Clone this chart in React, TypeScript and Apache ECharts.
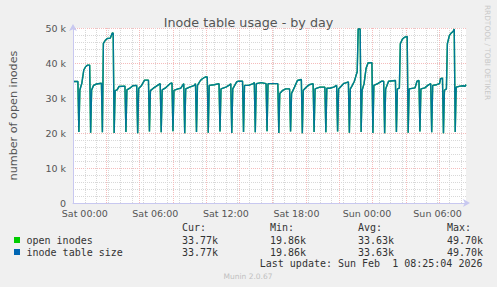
import React, { useEffect, useRef } from "react";
import * as echarts from "echarts";

// Time in minutes relative to Sat 00:00, values in thousands of inodes
const openInodes: [number, number][] = [
  [-55, 34.7], [-35, 34.7], [-30, 20.3],
  [-25, 32.3], [-15, 34.2], [-5, 38.0], [5, 39.0], [15, 39.4], [25, 39.4], [30, 20.1],
  [35, 32.3], [45, 33.6], [60, 34.0], [85, 34.2], [90, 20.2],
  [95, 45.6], [105, 46.5], [115, 47.0], [130, 47.1], [140, 48.5], [145, 48.6], [150, 20.0],
  [155, 32.1], [165, 32.3], [175, 33.3], [205, 33.4], [210, 20.3],
  [215, 32.3], [230, 32.8], [245, 33.5], [265, 33.6], [270, 19.9],
  [275, 32.7], [290, 33.6], [305, 35.1], [325, 35.1], [330, 20.4],
  [335, 32.1], [350, 32.8], [385, 34.1], [390, 20.2],
  [395, 32.3], [410, 32.8], [435, 34.1], [445, 34.3], [450, 20.5],
  [455, 32.2], [475, 32.6], [490, 32.8], [505, 34.1], [510, 19.9],
  [515, 32.6], [535, 33.1], [560, 33.6], [565, 34.1], [570, 20.3],
  [575, 33.6], [590, 35.0], [600, 35.5], [615, 36.0], [625, 36.0], [630, 20.1],
  [635, 33.6], [660, 33.8], [685, 34.1], [690, 20.4],
  [695, 32.6], [720, 33.1], [735, 33.6], [745, 34.1], [750, 20.0],
  [755, 32.6], [775, 34.6], [785, 34.8], [805, 34.8], [810, 20.3],
  [815, 33.6], [835, 33.6], [860, 34.1], [865, 34.4], [870, 20.2],
  [875, 34.1], [900, 34.4], [925, 34.1], [930, 20.5],
  [935, 34.1], [960, 34.1], [985, 34.1], [990, 20.0],
  [995, 31.3], [1010, 32.2], [1025, 32.6], [1045, 32.6], [1050, 20.4],
  [1055, 31.3], [1070, 33.1], [1085, 35.0], [1105, 35.3], [1110, 19.9],
  [1115, 32.2], [1130, 33.1], [1145, 33.8], [1165, 34.1], [1170, 20.3],
  [1175, 32.6], [1185, 32.8], [1200, 33.1], [1225, 33.1], [1230, 20.2],
  [1235, 32.8], [1250, 32.8], [1270, 33.1], [1285, 33.6], [1290, 20.4],
  [1295, 32.6], [1320, 34.1], [1335, 34.4], [1345, 34.6], [1350, 20.1],
  [1355, 32.6], [1365, 33.6], [1375, 34.7], [1385, 36.6], [1390, 37.5], [1395, 49.7], [1405, 49.7], [1410, 20.3],
  [1415, 32.2], [1425, 34.1], [1435, 38.4], [1445, 40.0], [1465, 40.1], [1470, 20.0],
  [1475, 33.6], [1495, 34.1], [1515, 34.8], [1525, 34.8], [1530, 19.9],
  [1535, 32.6], [1550, 34.8], [1585, 35.0], [1590, 20.3],
  [1595, 32.6], [1605, 32.8], [1610, 45.5], [1620, 46.8], [1630, 47.3], [1645, 47.6], [1650, 20.1],
  [1655, 32.6], [1685, 32.9], [1695, 34.8], [1705, 35.0], [1710, 20.4],
  [1715, 32.6], [1735, 32.9], [1750, 33.6], [1765, 34.1], [1770, 20.2],
  [1775, 33.6], [1795, 33.8], [1810, 34.1], [1815, 35.5], [1825, 35.7], [1830, 19.9],
  [1835, 32.2], [1845, 32.6], [1850, 45.5], [1860, 47.8], [1870, 48.6], [1880, 49.1], [1885, 49.7], [1890, 20.3],
  [1895, 33.1], [1915, 33.4], [1930, 33.5], [1940, 33.3], [1945, 33.8],
];
// Legend shows identical statistics for both series
const inodeTableSize: [number, number][] = openInodes.map((p) => [p[0], p[1]]);

const tickMinutes = [0, 360, 720, 1080, 1440, 1800];
const tickLabels = ["Sat 00:00", "Sat 06:00", "Sat 12:00", "Sat 18:00", "Sun 00:00", "Sun 06:00"];

const seriesNames = ["open inodes", "inode table size"];
const seriesColors = ["#00CC00", "#0066B3"];
const statHeaders = ["Cur:", "Min:", "Avg:", "Max:"];
const openStats = ["33.77k", "19.86k", "33.63k", "49.70k"];
const tableStats = ["33.77k", "19.86k", "33.63k", "49.70k"];
const lastUpdate = "Last update: Sun Feb  1 08:25:04 2026";

export default function App() {
  const ref = useRef<HTMLDivElement>(null);
  useEffect(() => {
    if (!ref.current) return;
    const chart = echarts.init(ref.current, undefined, { renderer: "svg" });
    const mono = "DejaVu Sans Mono";
    const sans = "DejaVu Sans";
    const colX = [182, 270, 358, 447];
    const graphic: any[] = [];
    statHeaders.forEach((h, i) =>
      graphic.push({ type: "text", x: colX[i], y: 227.5, style: { text: h, font: `10px "${mono}"`, fill: "#333", textVerticalAlign: "middle" } })
    );
    const rows = [
      { y: 240, name: seriesNames[0], color: seriesColors[0], stats: openStats },
      { y: 252, name: seriesNames[1], color: seriesColors[1], stats: tableStats },
    ];
    rows.forEach((r) => {
      graphic.push({ type: "rect", shape: { x: 14, y: r.y - 3, width: 6, height: 6 }, style: { fill: r.color } });
      graphic.push({ type: "text", x: 26.5, y: r.y, style: { text: r.name, font: `10px "${mono}"`, fill: "#333", textVerticalAlign: "middle" } });
      r.stats.forEach((s, i) =>
        graphic.push({ type: "text", x: colX[i], y: r.y, style: { text: s, font: `10px "${mono}"`, fill: "#333", textVerticalAlign: "middle" } })
      );
    });
    graphic.push({ type: "text", x: 482.5, y: 263.5, style: { text: lastUpdate, font: `10px "${mono}"`, fill: "#333", textAlign: "right", textVerticalAlign: "middle" } });
    graphic.push({ type: "text", x: 248, y: 276, style: { text: "Munin 2.0.67", font: `7.5px "${sans}"`, fill: "#c0c0c0", textAlign: "center", textVerticalAlign: "middle" } });
    graphic.push({
      type: "text", x: 487, y: 52.5, rotation: -Math.PI / 2,
      style: { text: "RRDTOOL / TOBI OETIKER", font: `7.4px "${sans}"`, fill: "#c8c8c8", textAlign: "center", textVerticalAlign: "middle" },
    });

    const gridGrey = { color: "#d8d8d8", type: [1, 1] as any, width: 1 };
    const gridRed = { color: "#f5bcbc", type: [1, 1] as any, width: 1 };
    const axisCol = "#c8c8f0";

    chart.setOption({
      animation: false,
      backgroundColor: "#F0F0F0",
      title: {
        text: "Inode table usage - by day",
        left: "center",
        top: 11,
        textStyle: { fontFamily: sans, fontSize: 12.7, fontWeight: "normal", color: "#555" },
      },
      grid: { left: 65, right: 31, top: 28, bottom: 84, show: true, backgroundColor: "#ffffff", borderWidth: 0 },
      xAxis: [
        {
          type: "value", min: -60, max: 1945, interval: 60,
          axisLine: { show: true, onZero: false, lineStyle: { color: axisCol }, symbol: ["none", "arrow"], symbolSize: [6, 7], symbolOffset: [0, 4] },
          axisTick: { show: false },
          splitLine: { show: true, showMinLine: false, showMaxLine: false, lineStyle: gridGrey },
          axisLabel: {
            fontFamily: sans, fontSize: 9.5, color: "#555", margin: 5,
            formatter: (v: number) => {
              const i = tickMinutes.indexOf(Math.round(v));
              return i >= 0 ? tickLabels[i] : "";
            },
          },
        },
        {
          type: "value", min: -180, max: 1945, interval: 180, position: "bottom", z: 1,
          axisLine: { show: false, onZero: false }, axisTick: { show: false }, axisLabel: { show: false },
          splitLine: { show: true, showMinLine: false, showMaxLine: false, lineStyle: gridRed },
        },
      ],
      yAxis: {
        type: "value", min: 0, max: 50, interval: 10,
        name: "number of open inodes", nameLocation: "middle", nameGap: 54, nameRotate: 90,
        nameTextStyle: { fontFamily: sans, fontSize: 11.2, color: "#555" },
        axisLine: { show: true, onZero: false, lineStyle: { color: axisCol }, symbol: ["none", "arrow"], symbolSize: [6, 7], symbolOffset: [0, 4] },
        axisTick: { show: false },
        minorTick: { show: false, splitNumber: 5 },
        minorSplitLine: { show: true, lineStyle: gridGrey },
        splitLine: { show: true, showMinLine: false, lineStyle: gridRed },
        axisLabel: {
          fontFamily: sans, fontSize: 9.5, color: "#555", margin: 7,
          formatter: (v: number) => (v === 0 ? "0" : `${v} k`),
        },
      },
      series: [
        {
          name: seriesNames[0], type: "line", data: openInodes, symbol: "none", xAxisIndex: 0,
          lineStyle: { color: seriesColors[0], width: 1.4 }, z: 3,
        },
        {
          name: seriesNames[1], type: "line", data: inodeTableSize, symbol: "none", xAxisIndex: 0,
          lineStyle: { color: seriesColors[1], width: 1.4, opacity: 0.85 }, z: 4,
        },
      ],
      graphic,
    });
    return () => chart.dispose();
  }, []);
  return <div ref={ref} style={{ position: "fixed", left: 0, top: 0, width: 497, height: 287 }} />;
}
